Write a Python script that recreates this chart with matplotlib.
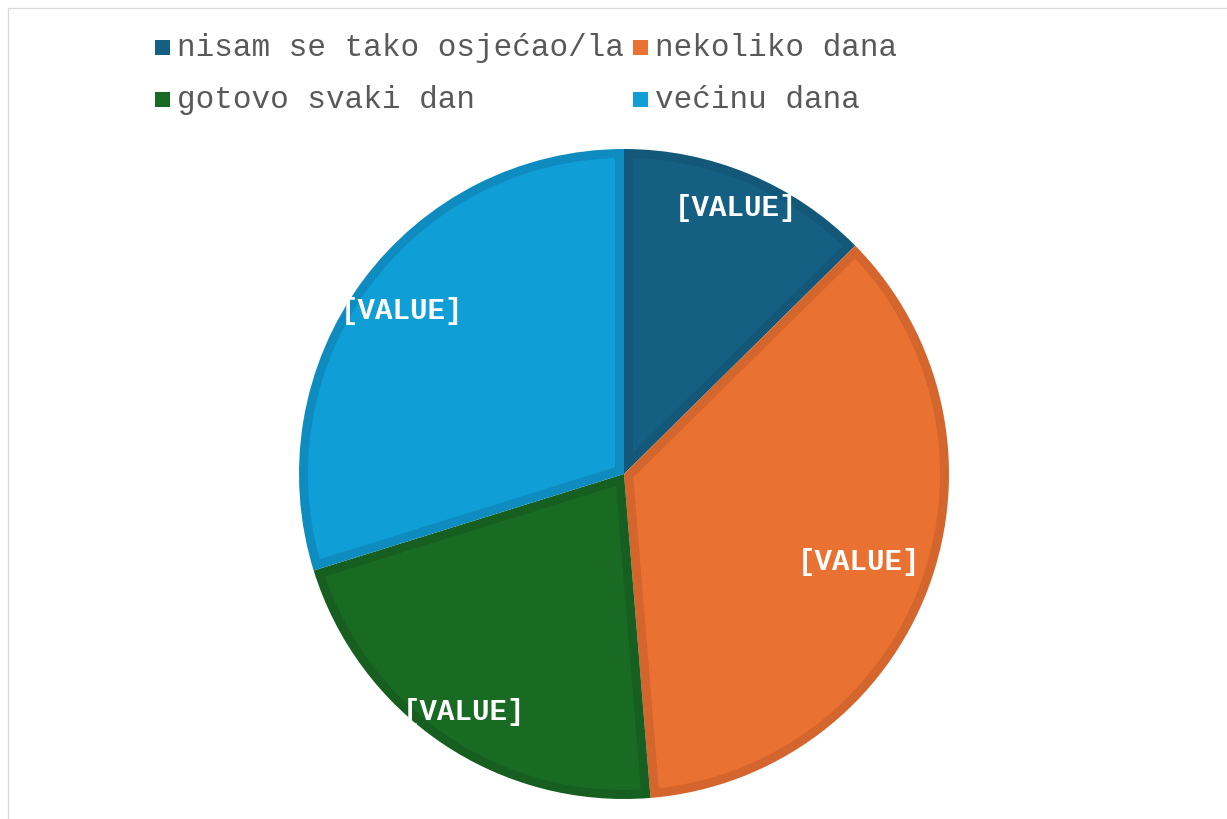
import matplotlib
matplotlib.use("Agg")
import matplotlib.pyplot as plt
from matplotlib.patches import Rectangle, Polygon
from matplotlib.lines import Line2D
import numpy as np

# -------------------------------------------------------
# DATA (shares, in percent)
# -------------------------------------------------------
categories = ["nisam se tako osjećao/la", "nekoliko dana",
              "gotovo svaki dan", "većinu dana"]
values = [12.6, 36.1, 21.5, 29.8]
labels = ["[VALUE]", "[VALUE]", "[VALUE]", "[VALUE]"]

colors = ["#156082", "#E97132", "#196B24", "#0F9ED5"]
edge_colors = ["#135878", "#D4652C", "#165F20", "#0E8CC0"]
label_r = [0.89, 0.77, 0.88, 0.85]

W, H = 1227, 820
fig = plt.figure(figsize=(W / 100, H / 100), dpi=100)
fig.patch.set_facecolor("white")

# thin chart-area border (top and left visible)
fig.add_artist(Line2D([8 / W, 8 / W], [0, 1 - 9 / H], color="#D9D9D9", lw=0.9))
fig.add_artist(Line2D([8 / W, 1], [1 - 9 / H, 1 - 9 / H], color="#D9D9D9", lw=0.9))

# -------------------------------------------------------
# PIE
# -------------------------------------------------------
cx, cy, r = 624, 475, 325
ax = fig.add_axes([(cx - r) / W, (H - cy - r) / H, 2 * r / W, 2 * r / H])

# slices are filled with the darker border colour first ...
wedges, _ = ax.pie(
    values,
    colors=edge_colors,
    startangle=90,
    counterclock=False,
    radius=1,
    wedgeprops=dict(linewidth=0),
)
ax.set_xlim(-1, 1)
ax.set_ylim(-1, 1)
ax.set_aspect("equal")
ax.axis("off")

# ... then each slice gets its main colour, inset by the border width
b = 9 / r
for w, c in zip(wedges, colors):
    t1, t2 = np.deg2rad(min(w.theta1, w.theta2)), np.deg2rad(max(w.theta1, w.theta2))
    half = (t2 - t1) / 2
    mid = (t1 + t2) / 2
    d = b / np.sin(half)
    R = w.r - b
    da = np.arcsin(b / R)
    arc = np.linspace(t1 + da, t2 - da, 200)
    pts = [(d * np.cos(mid), d * np.sin(mid))] + list(zip(R * np.cos(arc), R * np.sin(arc)))
    ax.add_patch(Polygon(pts, closed=True, facecolor=c, edgecolor="none"))

# data labels along each slice's middle angle
for w, lab, lr in zip(wedges, labels, label_r):
    mid = np.deg2rad((w.theta1 + w.theta2) / 2)
    ax.text(lr * np.cos(mid), lr * np.sin(mid), lab,
            ha="center", va="center", color="white", fontsize=21,
            fontweight="bold", family="Liberation Mono")

# -------------------------------------------------------
# LEGEND (two rows, two columns)
# -------------------------------------------------------
col_x = [155, 633]
row_y = [48, 100]
for k, name in enumerate(categories):
    x = col_x[k % 2]
    y = row_y[k // 2]
    fig.add_artist(Rectangle((x / W, 1 - (y + 7.5) / H), 15 / W, 15 / H,
                             transform=fig.transFigure,
                             facecolor=colors[k], edgecolor="none"))
    fig.text((x + 22) / W, 1 - y / H, name, ha="left", va="center",
             fontsize=22.3, color="#595959", family="Liberation Mono")

fig.savefig("out.png", dpi=100, facecolor="white")
